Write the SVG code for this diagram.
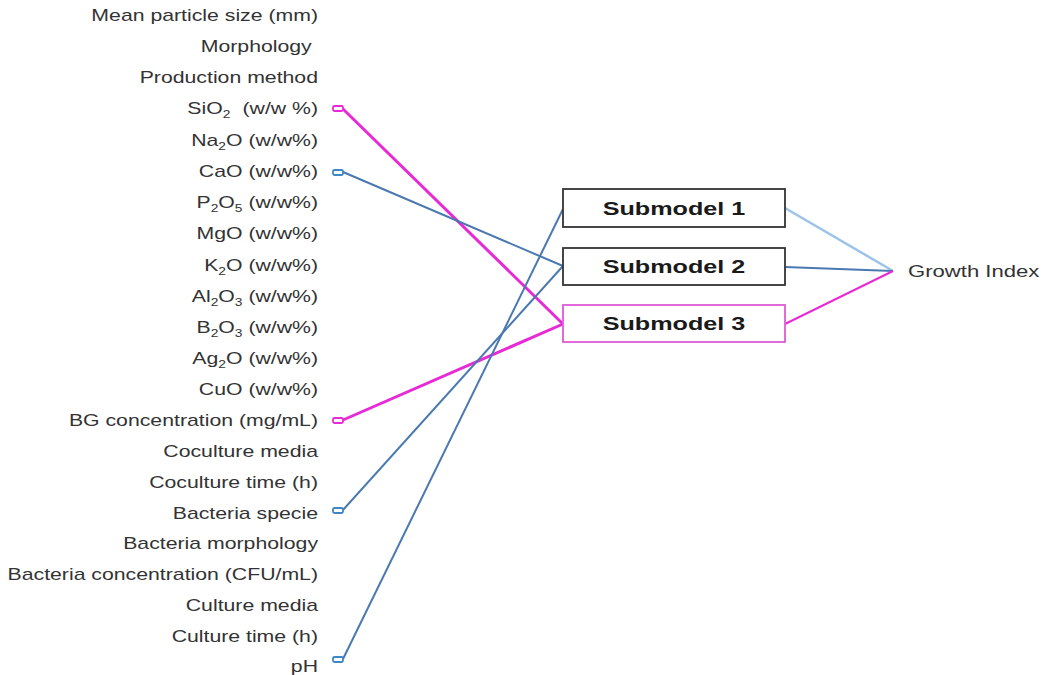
<svg xmlns="http://www.w3.org/2000/svg" width="1051" height="675" viewBox="0 0 1051 675">
<style>
.lbl{font-family:"Liberation Sans",Arial,sans-serif;font-size:17px;fill:#333;text-anchor:end}
.sub{font-size:11px}
.box{fill:#fff;stroke-width:1.8}
.bt{font-family:"Liberation Sans",Arial,sans-serif;font-size:18px;font-weight:bold;fill:#1a1a1a;text-anchor:middle}
.mk{fill:#fff;stroke-width:1.8}
.blue{stroke:#4a78b0;fill:none;stroke-width:2}
.lblue{stroke:#9cc3e8;fill:none;stroke-width:2.5}
.mag{stroke:#e82ad6;fill:none;stroke-width:3}
.mag2{stroke:#e82ad6;fill:none;stroke-width:2}
</style>
<rect width="1051" height="675" fill="#fff"/>
<g id="inputs" transform="translate(318,0) scale(1.25,1)">
<text class="lbl" x="0" y="21">Mean particle size (mm)</text>
<text class="lbl" x="-5" y="52">Morphology</text>
<text class="lbl" x="0" y="83">Production method</text>
<text class="lbl" x="0" y="114">SiO<tspan class="sub" dy="4">2</tspan><tspan dy="-4" dx="5"> (w/w %)</tspan></text>
<text class="lbl" x="0" y="146">Na<tspan class="sub" dy="4">2</tspan><tspan dy="-4">O (w/w%)</tspan></text>
<text class="lbl" x="0" y="177">CaO (w/w%)</text>
<text class="lbl" x="0" y="208">P<tspan class="sub" dy="4">2</tspan><tspan dy="-4">O</tspan><tspan class="sub" dy="4">5</tspan><tspan dy="-4"> (w/w%)</tspan></text>
<text class="lbl" x="0" y="239">MgO (w/w%)</text>
<text class="lbl" x="0" y="271">K<tspan class="sub" dy="4">2</tspan><tspan dy="-4">O (w/w%)</tspan></text>
<text class="lbl" x="0" y="302">Al<tspan class="sub" dy="4">2</tspan><tspan dy="-4">O</tspan><tspan class="sub" dy="4">3</tspan><tspan dy="-4"> (w/w%)</tspan></text>
<text class="lbl" x="0" y="333">B<tspan class="sub" dy="4">2</tspan><tspan dy="-4">O</tspan><tspan class="sub" dy="4">3</tspan><tspan dy="-4"> (w/w%)</tspan></text>
<text class="lbl" x="0" y="364">Ag<tspan class="sub" dy="4">2</tspan><tspan dy="-4">O (w/w%)</tspan></text>
<text class="lbl" x="0" y="395">CuO (w/w%)</text>
<text class="lbl" x="0" y="426">BG concentration (mg/mL)</text>
<text class="lbl" x="0" y="457">Coculture media</text>
<text class="lbl" x="0" y="488">Coculture time (h)</text>
<text class="lbl" x="0" y="519">Bacteria specie</text>
<text class="lbl" x="0" y="549">Bacteria morphology</text>
<text class="lbl" x="0" y="580">Bacteria concentration (CFU/mL)</text>
<text class="lbl" x="0" y="611">Culture media</text>
<text class="lbl" x="0" y="642">Culture time (h)</text>
<text class="lbl" x="0" y="672">pH</text>
</g>
<g id="connectors">
<line class="mag" x1="343" y1="109" x2="563" y2="324"/>
<line class="mag" x1="343" y1="420" x2="563" y2="324"/>
<line class="blue" x1="343" y1="172" x2="563" y2="266"/>
<line class="blue" x1="343" y1="510" x2="563" y2="266"/>
<line class="blue" x1="343" y1="659" x2="563" y2="209"/>
<line class="lblue" x1="785" y1="208" x2="893" y2="271"/>
<line class="blue" x1="785" y1="267" x2="893" y2="271"/>
<line class="mag2" x1="785" y1="324" x2="893" y2="271"/>
</g>
<g id="markers">
<rect class="mk" x="333" y="106" width="10" height="5" rx="1.5" stroke="#e82ad6"/>
<rect class="mk" x="333" y="170" width="10" height="5" rx="1.5" stroke="#3f86c4"/>
<rect class="mk" x="333" y="418" width="10" height="5" rx="1.5" stroke="#e82ad6"/>
<rect class="mk" x="333" y="508" width="10" height="5" rx="1.5" stroke="#3f86c4"/>
<rect class="mk" x="333" y="657" width="10" height="5" rx="1.5" stroke="#3f86c4"/>
</g>
<g id="submodel1">
<rect class="box" x="563" y="189" width="222" height="38" stroke="#333"/>
<text class="bt" transform="translate(674,215) scale(1.4,1)">Submodel 1</text>
</g>
<g id="submodel2">
<rect class="box" x="563" y="248" width="222" height="37" stroke="#333"/>
<text class="bt" transform="translate(674,273) scale(1.4,1)">Submodel 2</text>
</g>
<g id="submodel3">
<rect class="box" x="563" y="305" width="222" height="37" stroke="#e05ad8"/>
<text class="bt" transform="translate(674,330) scale(1.4,1)">Submodel 3</text>
</g>
<g id="growth">
<text class="lbl" transform="translate(908,277) scale(1.3,1)" style="text-anchor:start">Growth Index</text>
</g>
</svg>
